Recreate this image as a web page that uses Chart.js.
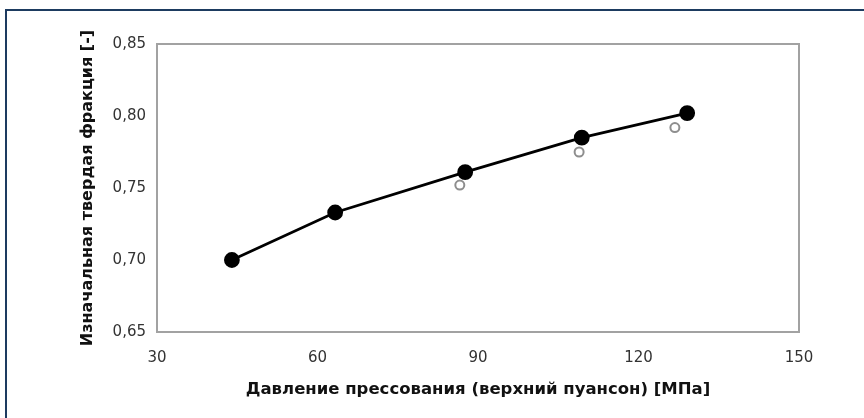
<!DOCTYPE html>
<html>
<head>
<meta charset="utf-8">
<script src="https://cdn.jsdelivr.net/npm/chart.js@4"></script>
<style>
  html, body { margin: 0; padding: 0; background: #ffffff; }
  #wrap { position: relative; width: 864px; height: 418px; overflow: hidden; background: #ffffff; }
  #frame { position: absolute; left: 5px; top: 9px; width: 900px; height: 460px; border: 2px solid #1d3b60; box-sizing: border-box; pointer-events: none; }
  canvas { position: absolute; left: 0; top: 0; }
</style>
</head>
<body>
<div id="wrap">
  <canvas id="c" width="864" height="418"></canvas>
  <div id="frame"></div>
</div>
<script>
// Pressing pressure (upper punch), MPa, and initial solid fraction
const pressureMain = [44.0, 63.3, 87.6, 109.4, 129.1];
const fractionMain = [0.700, 0.733, 0.761, 0.785, 0.802];

// Second set of measurements (open grey markers)
const pressureAlt = [86.6, 108.9, 126.8];
const fractionAlt = [0.752, 0.775, 0.792];

const xTicks = [30, 60, 90, 120, 150];
const yTicks = [0.65, 0.70, 0.75, 0.80, 0.85];

const xTitle = 'Давление прессования (верхний пуансон) [МПа]';
const yTitle = 'Изначальная твердая фракция [-]';

const toPoints = (xs, ys) => xs.map((x, i) => ({ x: x, y: ys[i] }));

// Grey box around the plotting area
const plotBox = {
  id: 'plotBox',
  afterDraw(chart) {
    const a = chart.chartArea;
    const ctx = chart.ctx;
    ctx.save();
    ctx.strokeStyle = '#a2a2a2';
    ctx.lineWidth = 2;
    ctx.strokeRect(a.left, a.top, a.right - a.left, a.bottom - a.top);
    ctx.restore();
  }
};

new Chart(document.getElementById('c'), {
  type: 'scatter',
  data: {
    datasets: [
      {
        label: 'alt',
        data: toPoints(pressureAlt, fractionAlt),
        showLine: false,
        pointRadius: 4.5,
        pointBorderWidth: 2,
        pointBorderColor: '#8e8e8e',
        pointBackgroundColor: 'rgba(255,255,255,0)',
        order: 2
      },
      {
        label: 'main',
        data: toPoints(pressureMain, fractionMain),
        showLine: true,
        borderColor: '#000000',
        borderWidth: 2.8,
        pointRadius: 6.5,
        pointBackgroundColor: '#000000',
        pointBorderColor: '#000000',
        tension: 0,
        order: 1
      }
    ]
  },
  options: {
    responsive: false,
    animation: false,
    events: [],
    layout: { padding: { left: 0, top: 44, right: 65, bottom: 0 } },
    plugins: { legend: { display: false }, tooltip: { enabled: false } },
    scales: {
      x: {
        type: 'linear',
        min: xTicks[0],
        max: xTicks[xTicks.length - 1],
        afterBuildTicks(scale) { scale.ticks = xTicks.map(v => ({ value: v })); },
        afterFit(scale) { scale.height = 86; },
        grid: { display: false, drawTicks: false },
        border: { display: false },
        ticks: {
          padding: 17,
          color: '#333333',
          font: { family: 'DejaVu Sans', size: 15 },
          callback: v => String(v)
        },
        title: {
          display: true,
          text: xTitle,
          color: '#111111',
          font: { family: 'DejaVu Sans', size: 16.5, weight: 'bold' },
          padding: { top: 0, bottom: 18 }
        }
      },
      y: {
        type: 'linear',
        min: yTicks[0],
        max: yTicks[yTicks.length - 1],
        afterBuildTicks(scale) { scale.ticks = yTicks.map(v => ({ value: v })); },
        afterFit(scale) { scale.width = 157; },
        grid: { display: false, drawTicks: false },
        border: { display: false },
        ticks: {
          padding: 11,
          color: '#333333',
          font: { family: 'DejaVu Sans', size: 15 },
          callback: v => v.toFixed(2).replace('.', ',')
        },
        title: {
          display: true,
          text: yTitle,
          color: '#111111',
          font: { family: 'DejaVu Sans', size: 16, weight: 'bold' },
          padding: { top: 78, bottom: 0 }
        }
      }
    }
  },
  plugins: [plotBox]
});
</script>
</body>
</html>
